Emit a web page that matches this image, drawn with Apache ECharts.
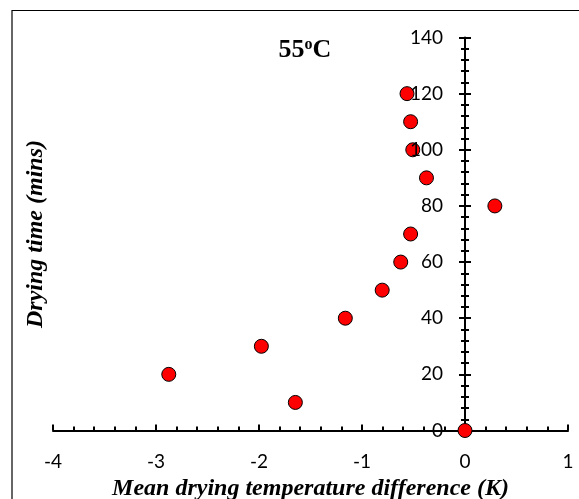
<!DOCTYPE html>
<html>
<head>
<meta charset="utf-8">
<script src="https://cdn.jsdelivr.net/npm/echarts@6/dist/echarts.min.js"></script>
<style>
  html, body { margin: 0; padding: 0; background: #fff; }
  #chart { width: 579px; height: 499px; }
</style>
</head>
<body>
<div id="chart"></div>
<script>
// Mean drying temperature difference (K) against drying time (mins) at 55 °C
var tempDiff = [0, -1.647, -2.876, -1.977, -1.162, -0.804, -0.624, -0.528, 0.29, -0.374, -0.507, -0.528, -0.563];
var dryingTime = [0, 10, 20, 30, 40, 50, 60, 70, 80, 90, 100, 110, 120];

var xMin = -4, xMax = 1, xStep = 1;
var yMin = 0, yMax = 140, yStep = 20;

var points = tempDiff.map(function (t, i) { return [t, dryingTime[i]]; });

var GRID_LEFT = 53, GRID_RIGHT = 11;
var chartWidth = 579;
var plotWidth = chartWidth - GRID_LEFT - GRID_RIGHT;
// vertical axis sits at x = 0 of the horizontal axis
var yAxisShift = -plotWidth * (0 - xMin) / (xMax - xMin);

var labelFont = { fontFamily: 'Lato', fontSize: 19, color: '#000' };
var titleFont = 'Liberation Serif';

function baseYAxis(extra) {
  var ax = {
    type: 'value', min: yMin, max: yMax, interval: yStep,
    position: 'left', offset: yAxisShift,
    axisLine: { show: false, onZero: false },
    axisTick: { show: false },
    minorTick: { show: false },
    axisLabel: { show: false },
    splitLine: { show: false }
  };
  for (var k in extra) ax[k] = extra[k];
  return ax;
}

var chart = echarts.init(document.getElementById('chart'), null, { renderer: 'canvas' });
chart.setOption({
  backgroundColor: '#fff',
  animation: false,
  graphic: [{
    type: 'rect', left: 9.5, top: 8, silent: true,
    shape: { x: 0, y: 0, width: 700, height: 700 },
    style: { fill: 'none', stroke: '#000', lineWidth: 1.2 }
  }],
  title: {
    text: '{m|55}{s|o}{m|C}',
    left: 300, top: 32, textAlign: 'center',
    textStyle: {
      rich: {
        m: { fontFamily: titleFont, fontWeight: 'bold', fontSize: 26, color: '#000' },
        s: { fontFamily: titleFont, fontWeight: 'bold', fontSize: 16, color: '#000', verticalAlign: 'top', padding: [0, 0, 10, 0] }
      }
    }
  },
  grid: { left: GRID_LEFT, right: GRID_RIGHT, top: 37.5, bottom: 68.5, containLabel: false, outerBoundsMode: 'none' },
  xAxis: {
    type: 'value', min: xMin, max: xMax, interval: xStep,
    name: 'Mean drying temperature difference (K)',
    nameLocation: 'middle', nameGap: 43,
    nameTextStyle: { fontFamily: titleFont, fontWeight: 'bold', fontStyle: 'italic', fontSize: 24, color: '#000' },
    axisLine: { show: true, onZero: false, lineStyle: { color: '#000', width: 2 } },
    axisTick: { show: true, inside: true, length: 6, lineStyle: { color: '#000', width: 2 } },
    minorTick: { show: true, splitNumber: 5, length: 4, lineStyle: { color: '#000', width: 2 } },
    axisLabel: Object.assign({ margin: 22 }, labelFont),
    splitLine: { show: false }
  },
  yAxis: [
    // axis line with ticks to the left
    baseYAxis({
      name: 'Drying time (mins)', nameLocation: 'middle', nameGap: 417, nameRotate: 90,
      nameTextStyle: { fontFamily: titleFont, fontWeight: 'bold', fontStyle: 'italic', fontSize: 24, color: '#000' },
      axisLine: { show: true, onZero: false, lineStyle: { color: '#000', width: 2 } },
      axisTick: { show: true, inside: false, length: 6, lineStyle: { color: '#000', width: 2 } },
      minorTick: { show: true, splitNumber: 5, length: 4, lineStyle: { color: '#000', width: 2 } }
    }),
    // ticks to the right, so they cross the line
    baseYAxis({
      axisTick: { show: true, inside: true, length: 6, lineStyle: { color: '#000', width: 2 } },
      minorTick: { show: true, splitNumber: 5, length: 4, lineStyle: { color: '#000', width: 2 } }
    }),
    // tick labels above the markers
    baseYAxis({
      z: 5,
      axisLabel: Object.assign({ show: true, margin: 22 }, labelFont)
    })
  ],
  series: [{
    type: 'scatter',
    data: points,
    symbol: 'circle',
    symbolSize: 14,
    itemStyle: { color: '#ff0000', borderColor: '#000', borderWidth: 1, opacity: 1 },
    z: 3
  }]
});
</script>
</body>
</html>
